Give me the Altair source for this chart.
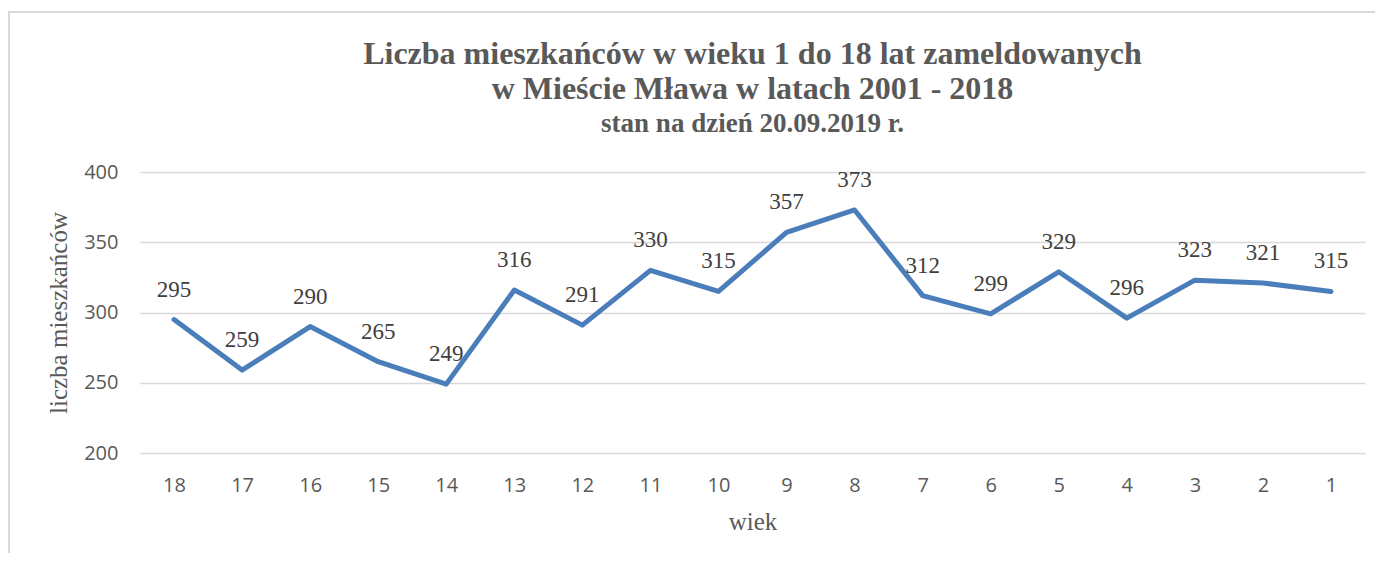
import altair as alt
import pandas as pd

ages = ["18", "17", "16", "15", "14", "13", "12", "11", "10", "9", "8", "7", "6", "5", "4", "3", "2", "1"]
values = [295, 259, 290, 265, 249, 316, 291, 330, 315, 357, 373, 312, 299, 329, 296, 323, 321, 315]

df = pd.DataFrame({"wiek": ages, "liczba": values})

x_enc = alt.X("wiek:N", sort=ages, title="wiek",
              scale=alt.Scale(paddingOuter=0.5),
              axis=alt.Axis(labelAngle=0, labelFont="Open Sans", labelFontSize=20,
                            labelColor="#595959", labelPadding=22, ticks=False, domain=False,
                            grid=False, titleFont="Liberation Serif", titleFontSize=25,
                            titleFontWeight="normal", titleColor="#595959", titlePadding=14))
y_enc = alt.Y("liczba:Q", title="liczba mieszkańców",
              scale=alt.Scale(domain=[200, 400], nice=False, zero=False),
              axis=alt.Axis(values=[200, 250, 300, 350, 400], labelFont="Open Sans",
                            labelFontSize=20, labelColor="#595959", labelPadding=22,
                            ticks=False, domain=False, grid=True, gridColor="#d9d9d9",
                            gridWidth=1.3, titleFont="Liberation Serif", titleFontSize=25,
                            titleFontWeight="normal", titleColor="#595959", titlePadding=12))

base = alt.Chart(df)

line = base.mark_line(color="#4A7EBB", strokeWidth=5, strokeJoin="round",
                      strokeCap="round").encode(x=x_enc, y=y_enc)
labels = base.mark_text(font="Liberation Serif", fontSize=23, color="#404040",
                        baseline="alphabetic", dy=-23).encode(
    x=alt.X("wiek:N", sort=ages), y="liczba:Q", text="liczba:Q")

frame = base.mark_rect(fill=None, stroke="#d9d9d9", strokeWidth=1.5, clip=False).encode(
    x=alt.value(-131), x2=alt.value(1400), y=alt.value(-160), y2=alt.value(500))

chart = alt.layer(frame, line, labels).properties(
    width=1225, height=281,
    title=alt.TitleParams(
        text=["Liczba mieszkańców w wieku 1 do 18 lat zameldowanych",
              "w Mieście Mława w latach 2001 - 2018"],
        subtitle="stan na dzień 20.09.2019 r.",
        font="Liberation Serif", fontSize=32, fontWeight="bold", color="#595959",
        lineHeight=35, subtitleFont="Liberation Serif", subtitleFontSize=27,
        subtitleFontWeight="bold", subtitleColor="#595959", subtitlePadding=5,
        anchor="middle", frame="group", offset=0, dy=127),
    autosize=alt.AutoSizeParams(type="none"),
    padding={"left": 132, "top": 164, "right": 10, "bottom": 100},
).configure_view(stroke=None)

chart.save("out.html", embed_options={"renderer": "svg", "actions": False})
